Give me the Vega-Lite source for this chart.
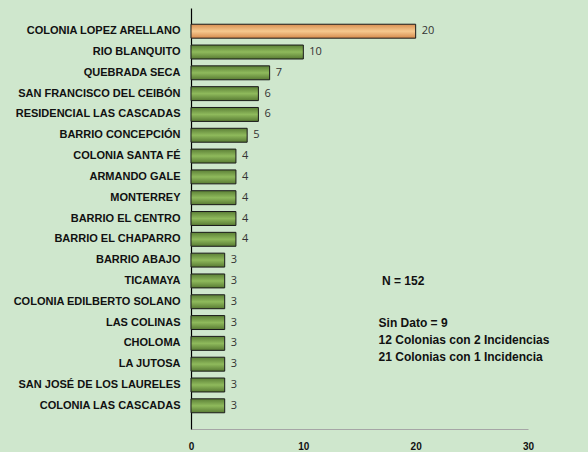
{
  "$schema": "https://vega.github.io/schema/vega-lite/v6.json",
  "autosize": {"type": "none"},
  "padding": {"left": 191, "top": 8, "right": 60, "bottom": 23},
  "width": 337,
  "height": 421,
  "background": "#cfe7cd",
  "config": {
    "view": {"stroke": null},
    "font": "Liberation Sans",
    "axisX": {
      "title": null, "grid": false, "ticks": false, "labelFlush": false,
      "domainColor": "#a6a6a6", "domainWidth": 1.2, "labelFont": "Liberation Sans",
      "labelFontWeight": "bold", "labelFontSize": 10, "labelColor": "#111111", "labelPadding": 12
    },
    "axisY": {
      "title": null, "ticks": false, "domainColor": "#000000", "domainWidth": 1.2,
      "labelFont": "Liberation Sans", "labelFontWeight": "bold", "labelFontSize": 11,
      "labelColor": "#111111", "labelPadding": 11, "labelLimit": 300
    }
  },
  "datasets": {
    "bars": [
      {"colonia": "COLONIA LOPEZ ARELLANO", "n": 20, "top": "si"},
      {"colonia": "RIO BLANQUITO", "n": 10, "top": "no"},
      {"colonia": "QUEBRADA SECA", "n": 7, "top": "no"},
      {"colonia": "SAN FRANCISCO DEL CEIBÓN", "n": 6, "top": "no"},
      {"colonia": "RESIDENCIAL LAS CASCADAS", "n": 6, "top": "no"},
      {"colonia": "BARRIO CONCEPCIÓN", "n": 5, "top": "no"},
      {"colonia": "COLONIA SANTA FÉ", "n": 4, "top": "no"},
      {"colonia": "ARMANDO GALE", "n": 4, "top": "no"},
      {"colonia": "MONTERREY", "n": 4, "top": "no"},
      {"colonia": "BARRIO EL CENTRO", "n": 4, "top": "no"},
      {"colonia": "BARRIO EL CHAPARRO", "n": 4, "top": "no"},
      {"colonia": "BARRIO ABAJO", "n": 3, "top": "no"},
      {"colonia": "TICAMAYA", "n": 3, "top": "no"},
      {"colonia": "COLONIA EDILBERTO SOLANO", "n": 3, "top": "no"},
      {"colonia": "LAS COLINAS", "n": 3, "top": "no"},
      {"colonia": "CHOLOMA", "n": 3, "top": "no"},
      {"colonia": "LA JUTOSA", "n": 3, "top": "no"},
      {"colonia": "SAN JOSÉ DE LOS LAURELES", "n": 3, "top": "no"},
      {"colonia": "COLONIA LAS CASCADAS", "n": 3, "top": "no"}
    ],
    "notes": [
      {"x": 17, "row": "TICAMAYA", "label": ["N = 152"]},
      {"x": 16.7, "row": "LAS COLINAS", "label": ["Sin Dato = 9", "12 Colonias con 2 Incidencias", "21 Colonias con 1 Incidencia"]}
    ]
  },
  "data": {"name": "bars"},
  "layer": [
    {
      "transform": [{"filter": "datum.top == 'no'"}],
      "mark": {
        "type": "bar", "stroke": "#1a1a1a", "strokeWidth": 1,
        "fill": {"x1": 0, "y1": 0, "x2": 0, "y2": 1, "gradient": "linear",
          "stops": [{"offset": 0, "color": "#5b7f36"}, {"offset": 0.5, "color": "#8fba5c"}, {"offset": 1, "color": "#587a33"}]}
      },
      "encoding": {
        "x": {
          "field": "n", "type": "quantitative",
          "scale": {"domain": [0, 30]},
          "axis": {"values": [0, 10, 20, 30]}
        },
        "y": {
          "field": "colonia", "type": "nominal",
          "scale": {
            "domain": ["COLONIA LOPEZ ARELLANO", "RIO BLANQUITO", "QUEBRADA SECA", "SAN FRANCISCO DEL CEIBÓN", "RESIDENCIAL LAS CASCADAS", "BARRIO CONCEPCIÓN", "COLONIA SANTA FÉ", "ARMANDO GALE", "MONTERREY", "BARRIO EL CENTRO", "BARRIO EL CHAPARRO", "BARRIO ABAJO", "TICAMAYA", "COLONIA EDILBERTO SOLANO", "LAS COLINAS", "CHOLOMA", "LA JUTOSA", "SAN JOSÉ DE LOS LAURELES", "COLONIA LAS CASCADAS"],
            "paddingInner": 0.33, "paddingOuter": 0.78
          }
        }
      }
    },
    {
      "transform": [{"filter": "datum.top == 'si'"}],
      "mark": {
        "type": "bar", "stroke": "#1a1a1a", "strokeWidth": 1,
        "fill": {"x1": 0, "y1": 0, "x2": 0, "y2": 1, "gradient": "linear",
          "stops": [{"offset": 0, "color": "#d98f52"}, {"offset": 0.5, "color": "#f6c98f"}, {"offset": 1, "color": "#d68a4c"}]}
      },
      "encoding": {
        "x": {"field": "n", "type": "quantitative"},
        "y": {"field": "colonia", "type": "nominal"}
      }
    },
    {
      "mark": {"type": "text", "align": "left", "dx": 6, "font": "Open Sans", "fontSize": 11, "color": "#333333"},
      "encoding": {
        "x": {"field": "n", "type": "quantitative"},
        "y": {"field": "colonia", "type": "nominal"},
        "text": {"field": "n"}
      }
    },
    {
      "data": {"name": "notes"},
      "mark": {"type": "text", "align": "left", "baseline": "top", "dy": -5, "font": "Liberation Sans", "fontWeight": "bold", "fontSize": 12, "lineHeight": 17, "color": "#111111"},
      "encoding": {
        "x": {"field": "x", "type": "quantitative"},
        "y": {"field": "row", "type": "nominal"},
        "text": {"field": "label"}
      }
    }
  ]
}
